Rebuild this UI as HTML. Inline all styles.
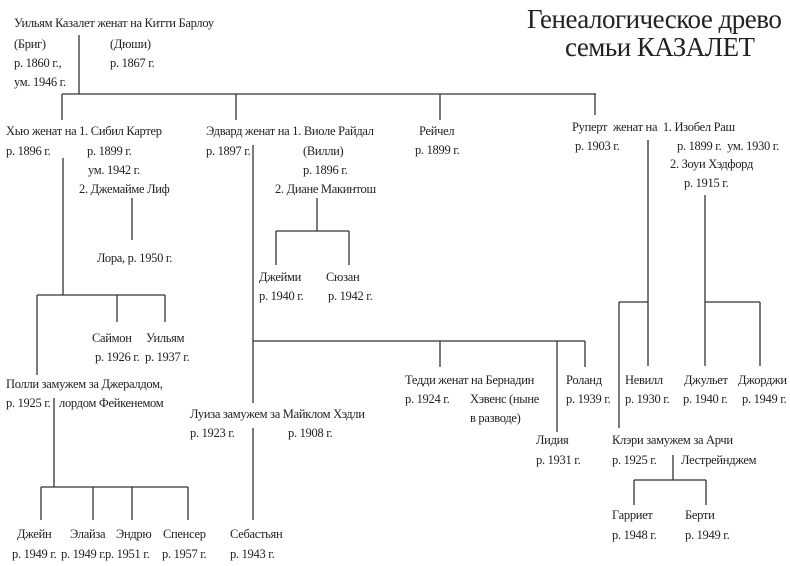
<!DOCTYPE html>
<html><head><meta charset="utf-8"><style>
html,body{margin:0;padding:0;background:#fff;}
svg{display:block}
text{font-family:"Liberation Serif",serif;font-size:12.5px;fill:#222;letter-spacing:-0.3px}
.t{font-size:27px;letter-spacing:-0.5px}
line{stroke:#333;stroke-width:1.3}
</style></head><body>
<svg width="790" height="566" viewBox="0 0 790 566" xmlns="http://www.w3.org/2000/svg">
<text class="t" x="527" y="28">Генеалогическое древо</text>
<text class="t" x="565" y="56">семьи КАЗАЛЕТ</text>

<text x="14" y="27">Уильям Казалет женат на Китти Барлоу</text>
<text x="14" y="48">(Бриг)</text><text x="110" y="48">(Дюши)</text>
<text x="14" y="67">р. 1860 г.,</text><text x="110" y="67">р. 1867 г.</text>
<text x="14" y="86">ум. 1946 г.</text>
<line x1="79" y1="35" x2="79" y2="94"/>
<line x1="62" y1="94" x2="596" y2="94"/>
<line x1="62" y1="94" x2="62" y2="120"/>
<line x1="236" y1="94" x2="236" y2="120"/>
<line x1="440" y1="94" x2="440" y2="120"/>
<line x1="595" y1="94" x2="595" y2="115"/>

<text x="6" y="135">Хью женат на 1. Сибил Картер</text>
<text x="6" y="155">р. 1896 г.</text><text x="87" y="155">р. 1899 г.</text>
<text x="88" y="174">ум. 1942 г.</text>
<text x="79" y="193">2. Джемайме Лиф</text>
<line x1="63" y1="158" x2="63" y2="295"/>
<line x1="132" y1="198" x2="132" y2="240"/>
<text x="97" y="262">Лора, р. 1950 г.</text>
<line x1="37" y1="295" x2="165" y2="295"/>
<line x1="37" y1="295" x2="37" y2="375"/>
<line x1="117" y1="295" x2="117" y2="322"/>
<line x1="165" y1="295" x2="165" y2="322"/>
<text x="92" y="342">Саймон</text><text x="146" y="342">Уильям</text>
<text x="95" y="361">р. 1926 г.</text><text x="145" y="361">р. 1937 г.</text>
<text x="6" y="388">Полли замужем за Джералдом,</text>
<text x="6" y="407">р. 1925 г.</text><text x="59" y="407">лордом Фейкенемом</text>
<line x1="54" y1="398" x2="54" y2="487"/>
<line x1="41" y1="487" x2="188" y2="487"/>
<line x1="41" y1="487" x2="41" y2="520"/>
<line x1="93" y1="487" x2="93" y2="520"/>
<line x1="132" y1="487" x2="132" y2="520"/>
<line x1="188" y1="487" x2="188" y2="520"/>
<text x="17" y="538">Джейн</text><text x="70" y="538">Элайза</text><text x="116" y="538">Эндрю</text><text x="163" y="538">Спенсер</text>
<text x="12" y="558">р. 1949 г.</text><text x="61" y="558">р. 1949 г.</text><text x="105" y="558">р. 1951 г.</text><text x="162" y="558">р. 1957 г.</text>

<text x="206" y="135">Эдвард женат на 1. Виоле Райдал</text>
<text x="206" y="155">р. 1897 г.</text><text x="303" y="155">(Вилли)</text>
<text x="303" y="174">р. 1896 г.</text>
<text x="275" y="193">2. Диане Макинтош</text>
<line x1="317" y1="198" x2="317" y2="231"/>
<line x1="276" y1="231" x2="349" y2="231"/>
<line x1="276" y1="231" x2="276" y2="265"/>
<line x1="349" y1="231" x2="349" y2="265"/>
<text x="259" y="281">Джейми</text><text x="326" y="281">Сюзан</text>
<text x="259" y="300">р. 1940 г.</text><text x="328" y="300">р. 1942 г.</text>
<line x1="253" y1="145" x2="253" y2="403"/>
<line x1="253" y1="341" x2="585" y2="341"/>
<line x1="440" y1="341" x2="440" y2="367"/>
<line x1="557" y1="341" x2="557" y2="432"/>
<line x1="585" y1="341" x2="585" y2="367"/>
<text x="190" y="418">Луиза замужем за Майклом Хэдли</text>
<text x="190" y="437">р. 1923 г.</text><text x="288" y="437">р. 1908 г.</text>
<line x1="253" y1="428" x2="253" y2="520"/>
<text x="230" y="538">Себастьян</text>
<text x="230" y="558">р. 1943 г.</text>
<text x="405" y="384">Тедди женат на Бернадин</text>
<text x="405" y="403">р. 1924 г.</text><text x="470" y="403">Хэвенс (ныне</text>
<text x="470" y="422">в разводе)</text>
<text x="536" y="444">Лидия</text><text x="536" y="464">р. 1931 г.</text>
<text x="566" y="384">Роланд</text><text x="566" y="403">р. 1939 г.</text>

<text x="419" y="135">Рейчел</text>
<text x="415" y="154">р. 1899 г.</text>

<text x="572" y="131">Руперт &#160;женат на &#160;1. Изобел Раш</text>
<text x="575" y="150">р. 1903 г.</text><text x="677" y="150">р. 1899 г. &#160;ум. 1930 г.</text>
<text x="670" y="168">2. Зоуи Хэдфорд</text>
<text x="684" y="187">р. 1915 г.</text>
<line x1="648" y1="140" x2="648" y2="366"/>
<line x1="705" y1="195" x2="705" y2="366"/>
<line x1="619" y1="302" x2="648" y2="302"/>
<line x1="705" y1="302" x2="760" y2="302"/>
<line x1="760" y1="302" x2="760" y2="366"/>
<line x1="619" y1="302" x2="619" y2="428"/>
<text x="625" y="384">Невилл</text><text x="625" y="403">р. 1930 г.</text>
<text x="684" y="384">Джульет</text><text x="683" y="403">р. 1940 г.</text>
<text x="738" y="384">Джорджи</text><text x="742" y="403">р. 1949 г.</text>
<text x="612" y="444">Клэри замужем за Арчи</text>
<text x="612" y="464">р. 1925 г.</text><text x="681" y="464">Лестрейнджем</text>
<line x1="673" y1="455" x2="673" y2="480"/>
<line x1="634" y1="480" x2="706" y2="480"/>
<line x1="634" y1="480" x2="634" y2="505"/>
<line x1="706" y1="480" x2="706" y2="505"/>
<text x="612" y="519">Гарриет</text><text x="685" y="519">Берти</text>
<text x="612" y="539">р. 1948 г.</text><text x="685" y="539">р. 1949 г.</text>
</svg>
</body></html>
